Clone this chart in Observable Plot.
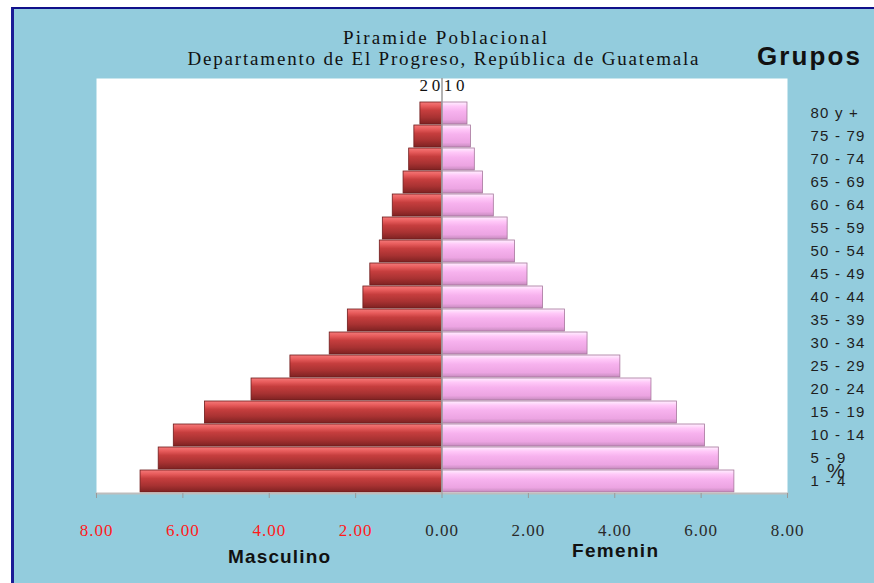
<!DOCTYPE html>
<html><head><meta charset="utf-8">
<script src="https://cdn.jsdelivr.net/npm/d3@7"></script>
<script src="https://cdn.jsdelivr.net/npm/@observablehq/plot@0.6"></script>
<style>
body{margin:0;background:#fff;width:874px;height:583px;overflow:hidden;position:relative}
#bg{position:absolute;left:11px;top:7px;right:0;bottom:0;background:#93CCDD;border-left:3px solid #1b1b96;border-top:2px solid #10108a;}
#chart{position:absolute;left:0;top:0}
</style></head><body><div id="bg"></div><div id="chart"></div>
<script>
const groups = ["80 y +","75 - 79","70 - 74","65 - 69","60 - 64","55 - 59","50 - 54","45 - 49","40 - 44","35 - 39","30 - 34","25 - 29","20 - 24","15 - 19","10 - 14","5 - 9","1 - 4"];
const male = [0.50,0.64,0.76,0.89,1.14,1.37,1.44,1.66,1.82,2.18,2.60,3.51,4.41,5.49,6.21,6.56,6.98];
const female = [0.59,0.67,0.76,0.95,1.20,1.52,1.69,1.98,2.34,2.85,3.37,4.13,4.85,5.44,6.09,6.41,6.77];
const xTicks = [-8,-6,-4,-2,0,2,4,6,8];
const titleLines = ["Piramide Poblacional", "Departamento de El Progreso, República de Guatemala"];
const yearLabel = "2010";
const legendTitle = "Grupos";
const sexLabels = ["Masculino", "Femenin"];
const unitLabel = "%";

const maleRows = groups.map((g,i)=>({group:g, value:-male[i]}));
const femaleRows = groups.map((g,i)=>({group:g, value:female[i]}));
const fmt = d => Math.abs(d).toFixed(2);

const plot = Plot.plot({
  width:874, height:583, marginLeft:96, marginRight:87, marginTop:78, marginBottom:90,
  style:{background:"transparent", fontFamily:"Liberation Serif", overflow:"visible"},
  x:{domain:[-8,8]},
  y:{domain:groups, range:[100,493], padding:0.06},
  marks:[
    Plot.frame({fill:"white", stroke:"none"}),
    Plot.barX(maleRows, {x1:0, x2:"value", y:"group", fill:"url(#gradM)", stroke:"#6e1c1c", strokeWidth:0.8}),
    Plot.barX(femaleRows, {x1:0, x2:"value", y:"group", fill:"url(#gradF)", stroke:"#a6779c", strokeWidth:0.8}),
    Plot.ruleX([0], {stroke:"#9a9a9a", strokeWidth:1.5}),
    Plot.frame({anchor:"bottom", stroke:"#bdbdbd", strokeWidth:2}),
    Plot.axisX(xTicks, {tickSize:5, stroke:"#9a9a9a", tickFormat:()=>"", label:null}),
    Plot.axisX(xTicks.filter(t=>t<0), {tickSize:0, tickPadding:30, tickFormat:fmt, color:"#ff1a1a", fontSize:17, label:null}),
    Plot.axisX(xTicks.filter(t=>t>=0), {tickSize:0, tickPadding:30, tickFormat:fmt, color:"#2a2a2a", fontSize:17, label:null}),
    Plot.axisY({anchor:"right", tickSize:0, tickPadding:23, fontSize:15, color:"#1e1e1e", label:null, fontFamily:"Liberation Sans"})
  ]
});

const svg = d3.select(plot);
const defs = svg.insert("defs", ":first-child");
function grad(id, stops){
  const g = defs.append("linearGradient").attr("id", id).attr("x1",0).attr("y1",0).attr("x2",0).attr("y2",1);
  stops.forEach(([o,c]) => g.append("stop").attr("offset", o).attr("stop-color", c));
}
grad("gradM", [[0,"#f47a7a"],[0.18,"#e85c5c"],[0.38,"#c63e3e"],[0.7,"#a83232"],[1,"#7e2222"]]);
grad("gradF", [[0,"#fff0ff"],[0.2,"#ffc8f8"],[0.42,"#f7b2ee"],[0.8,"#eca4e2"],[1,"#c68bbe"]]);

svg.selectAll('g[aria-label="y-axis tick label"] text').style("letter-spacing","1.2px");
svg.selectAll('g[aria-label="x-axis tick label"] text').style("letter-spacing","1px");

function addText(t, x, y, opts){
  const e = svg.append("text").attr("x", x).attr("y", y)
    .attr("text-anchor", opts.anchor || "start")
    .attr("font-family", opts.family || "Liberation Serif")
    .attr("font-size", opts.size)
    .attr("font-weight", opts.weight || "normal")
    .attr("fill", opts.fill || "#111")
    .text(t);
  if (opts.len) e.attr("textLength", opts.len).attr("lengthAdjust", "spacing");
  return e;
}
addText(titleLines[0], 445, 44, {anchor:"middle", size:19, len:204});
addText(titleLines[1], 443, 65, {anchor:"middle", size:19, len:511});
addText(yearLabel, 442, 91, {anchor:"middle", size:17, len:45});
addText(legendTitle, 757, 65, {size:26, weight:"bold", family:"Liberation Sans", len:103});
addText(sexLabels[0], 228, 563, {size:19, weight:"bold", family:"Liberation Sans", len:102});
addText(sexLabels[1], 572, 557, {size:19, weight:"bold", family:"Liberation Sans", len:86});
addText(unitLabel, 836, 478, {anchor:"middle", size:20, family:"Liberation Sans", fill:"#222"});

document.getElementById("chart").appendChild(plot);
</script></body></html>
